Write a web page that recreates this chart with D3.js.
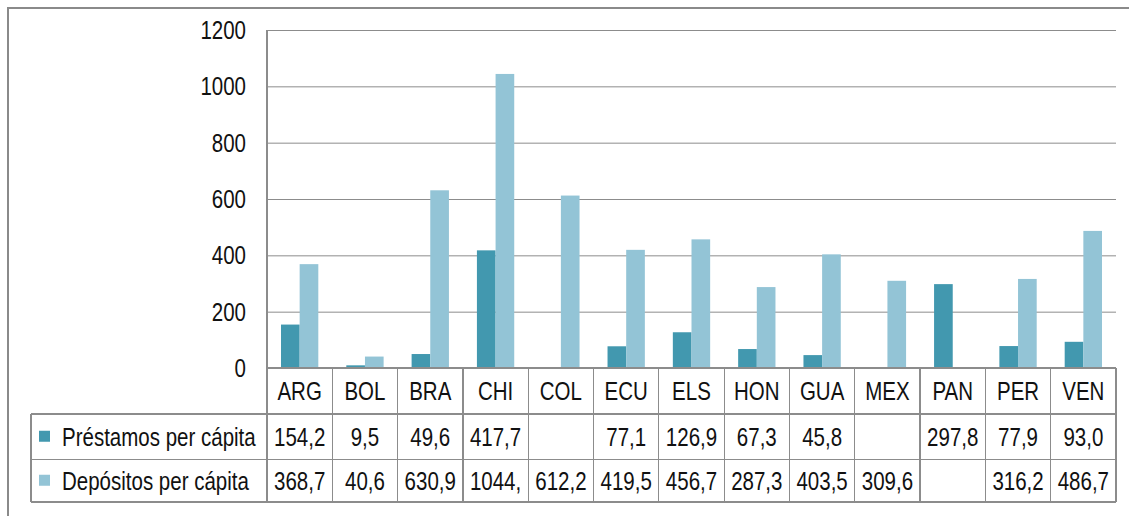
<!DOCTYPE html>
<html>
<head>
<meta charset="utf-8">
<script src="https://cdn.jsdelivr.net/npm/d3@7"></script>
<style>
  body { margin: 0; background: #fff; }
  svg text { font-family: "Liberation Sans", Arial, sans-serif; fill: #111; }
</style>
</head>
<body>
<div id="chart"></div>
<script>
// data
var paises = ["ARG", "BOL", "BRA", "CHI", "COL", "ECU", "ELS", "HON", "GUA", "MEX", "PAN", "PER", "VEN"];
var series = ["Préstamos per cápita", "Depósitos per cápita"];
var prestamos = [154.2, 9.5, 49.6, 417.7, null, 77.1, 126.9, 67.3, 45.8, null, 297.8, 77.9, 93.0];
var depositos = [368.7, 40.6, 630.9, 1044.0, 612.2, 419.5, 456.7, 287.3, 403.5, 309.6, null, 316.2, 486.7];
// labels as shown in the table (CHI is cut off in the original)
var prestamosTxt = ["154,2", "9,5", "49,6", "417,7", "", "77,1", "126,9", "67,3", "45,8", "", "297,8", "77,9", "93,0"];
var depositosTxt = ["368,7", "40,6", "630,9", "1044,", "612,2", "419,5", "456,7", "287,3", "403,5", "309,6", "", "316,2", "486,7"];
var yTicks = [0, 200, 400, 600, 800, 1000, 1200];

var width = 1129, height = 516;
var plot = {left: 267, right: 1116, top: 30, bottom: 368};
var rowH = [368, 414, 459.5, 502];   // table row boundaries
var legendLeft = 31;
var colors = ["#4298AF", "#93C4D6"];
var gridColor = "#8c8c8c";
var fontSize = 25;
var narrow = 0.82;   // no Arial Narrow here, so squeeze Liberation Sans

var svg = d3.select("#chart").append("svg")
    .attr("width", width)
    .attr("height", height);

// text squeezed horizontally to look like a narrow font
function label(parent, px, py, anchor, str) {
    parent.append("g")
        .attr("transform", "translate(" + px + "," + py + ") scale(" + narrow + ",1)")
        .append("text")
        .attr("dy", "0.36em")
        .style("text-anchor", anchor)
        .style("font-size", fontSize + "px")
        .text(str);
}

// outer frame (only top and left visible in the original)
svg.append("rect")
    .attr("x", 8).attr("y", 8)
    .attr("width", width + 20).attr("height", height + 20)
    .style("fill", "none")
    .style("stroke", "#8a8a8a")
    .style("stroke-width", 2);

var x = d3.scaleBand()
    .domain(paises)
    .range([plot.left, plot.right]);

var xs = d3.scaleBand()
    .domain(series)
    .range([0, x.bandwidth()])
    .paddingOuter(0.75);

var y = d3.scaleLinear()
    .domain([0, 1200])
    .range([plot.bottom, plot.top]);

// gridlines
var yAxis = d3.axisLeft(y)
    .tickValues(yTicks)
    .tickSize(-(plot.right - plot.left))
    .tickFormat("");

var gy = svg.append("g")
    .attr("transform", "translate(" + plot.left + ",0)")
    .call(yAxis);
gy.select(".domain").remove();
gy.selectAll(".tick line").style("stroke", gridColor);

// y labels
var yl = svg.append("g");
yTicks.forEach(function(t) {
    label(yl, plot.left - 21, y(t), "end", d3.format("d")(t));
});

// bars
var rows = [prestamos, depositos];
rows.forEach(function(vals, si) {
    svg.append("g").selectAll("rect")
        .data(paises.map(function(p, i) { return {pais: p, v: vals[i]}; }).filter(function(d) { return d.v != null; }))
        .enter().append("rect")
        .attr("x", function(d) { return x(d.pais) + xs(series[si]); })
        .attr("width", xs.bandwidth())
        .attr("y", function(d) { return y(d.v); })
        .attr("height", function(d) { return y(0) - y(d.v); })
        .style("fill", colors[si]);
});

// data table
var tbl = svg.append("g")
    .style("stroke", gridColor)
    .style("stroke-width", 1.3)
    .style("shape-rendering", "crispEdges");

// y axis line continues through the table
tbl.append("line").attr("x1", plot.left).attr("x2", plot.left).attr("y1", plot.top).attr("y2", rowH[3]);
// horizontal lines
tbl.append("line").attr("x1", plot.left).attr("x2", plot.right).attr("y1", rowH[0]).attr("y2", rowH[0]);
[1, 2, 3].forEach(function(k) {
    tbl.append("line").attr("x1", legendLeft).attr("x2", plot.right).attr("y1", rowH[k]).attr("y2", rowH[k]);
});
tbl.append("line").attr("x1", legendLeft).attr("x2", legendLeft).attr("y1", rowH[1]).attr("y2", rowH[3]);
// vertical separators
paises.forEach(function(p) {
    var xr = x(p) + x.bandwidth();
    tbl.append("line").attr("x1", xr).attr("x2", xr).attr("y1", rowH[0]).attr("y2", rowH[3]);
});

// header row
var hdr = svg.append("g");
paises.forEach(function(p) {
    label(hdr, x(p) + x.bandwidth() / 2, (rowH[0] + rowH[1]) / 2, "middle", p);
});

// value rows + legend keys
[prestamosTxt, depositosTxt].forEach(function(txt, si) {
    var cy = (rowH[si + 1] + rowH[si + 2]) / 2;
    var g = svg.append("g");
    paises.forEach(function(p, i) {
        if (txt[i]) label(g, x(p) + x.bandwidth() / 2, cy, "middle", txt[i]);
    });

    svg.append("rect")
        .attr("x", 39).attr("y", cy - 6)
        .attr("width", 11).attr("height", 11)
        .style("fill", colors[si]);
    label(g, 62, cy, "start", series[si]);
});
</script>
</body>
</html>
